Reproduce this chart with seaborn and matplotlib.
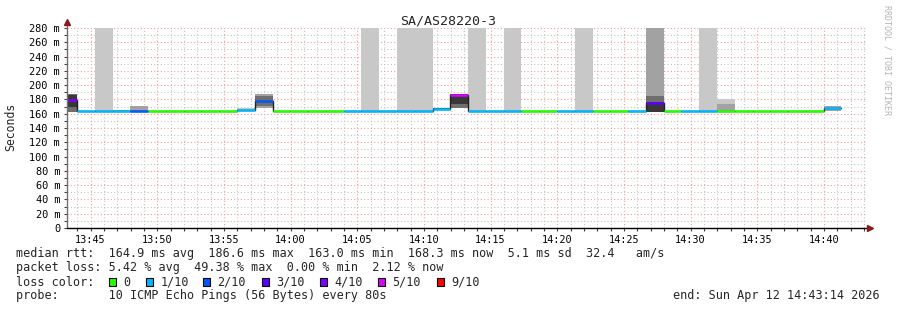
import matplotlib
matplotlib.use("Agg")
import numpy as np
import pandas as pd
import matplotlib.pyplot as plt
import seaborn as sns
from matplotlib.patches import Rectangle
from matplotlib.ticker import MultipleLocator

# ---------------- data ----------------
title = "SA/AS28220-3"
step_times = [
    "13:42:39", "13:43:59", "13:45:19", "13:46:39", "13:47:59", "13:49:19",
    "13:50:39", "13:51:59", "13:53:19", "13:54:39", "13:55:59", "13:57:19",
    "13:58:39", "13:59:59", "14:01:19", "14:02:39", "14:03:59", "14:05:19",
    "14:06:39", "14:07:59", "14:09:19", "14:10:39", "14:11:59", "14:13:19",
    "14:14:39", "14:15:59", "14:17:19", "14:18:39", "14:19:59", "14:21:19",
    "14:22:39", "14:23:59", "14:25:19", "14:26:39", "14:27:59", "14:29:19",
    "14:30:39", "14:31:59", "14:33:19", "14:34:39", "14:35:59", "14:37:19",
    "14:38:39", "14:39:59",
]
step_seconds = 80
median_ms = [
    179.6, 163.2, 163.2, 163.2, 163.2, 163.2, 163.2, 163.2, 163.2, 163.2,
    165.8, 177.3, 163.2, 163.2, 163.2, 163.2, 163.2, 163.2, 163.2, 163.2,
    163.2, 166.5, 186.6, 163.2, 163.2, 163.2, 163.2, 163.2, 163.2, 163.2,
    163.2, 163.2, 164.5, 175.0, 163.2, 163.2, 163.2, 163.2, 163.2, 163.2,
    163.2, 163.2, 163.2, 168.3,
]
loss_count = [
    4, 1, 1, 1, 2, 0, 0, 0, 0, 0,
    1, 2, 0, 0, 0, 0, 1, 1, 1, 1,
    1, 1, 5, 1, 1, 1, 0, 0, 1, 1,
    0, 0, 1, 3, 0, 1, 1, 0, 0, 0,
    0, 0, 0, 1,
]
nan = np.nan
# smoke layers (lo, hi) per step; nan = none
light_lo = [nan, nan, 163.2, nan, nan, nan, nan, nan, nan, nan,
            165.0, nan, nan, nan, nan, nan, nan, 163.2, nan, 163.2,
            163.2, nan, nan, 163.2, nan, 163.2, nan, nan, nan, 163.2,
            nan, nan, nan, nan, nan, nan, 163.2, 164.0, nan, nan,
            nan, nan, nan, nan]
light_hi = [nan, nan, 300.0, nan, nan, nan, nan, nan, nan, nan,
            168.5, nan, nan, nan, nan, nan, nan, 300.0, nan, 300.0,
            300.0, nan, nan, 300.0, nan, 300.0, nan, nan, nan, 300.0,
            nan, nan, nan, nan, nan, nan, 300.0, 180.2, nan, nan,
            nan, nan, nan, nan]
mid_lo = [nan, nan, nan, 163.2, 163.2, nan, nan, nan, nan, nan,
          nan, 167.6, nan, nan, nan, nan, nan, nan, nan, nan,
          nan, nan, nan, nan, nan, nan, nan, nan, nan, nan,
          nan, nan, nan, 163.0, nan, nan, nan, 164.0, nan, nan,
          nan, nan, nan, 163.8]
mid_hi = [nan, nan, nan, 165.5, 171.0, nan, nan, nan, nan, nan,
          nan, 187.6, nan, nan, nan, nan, nan, nan, nan, nan,
          nan, nan, nan, nan, nan, nan, nan, nan, nan, nan,
          nan, nan, nan, 300.0, nan, nan, nan, 173.6, nan, nan,
          nan, nan, nan, 170.8]
dim_lo = [162.5, nan, nan, nan, nan, nan, nan, nan, nan, nan,
          nan, 171.0, nan, nan, nan, nan, nan, nan, nan, nan,
          nan, nan, 168.0, nan, nan, nan, nan, nan, nan, nan,
          nan, nan, nan, 176.0, nan, nan, nan, nan, nan, nan,
          nan, nan, nan, nan]
dim_hi = [188.0, nan, nan, nan, nan, nan, nan, nan, nan, nan,
          nan, 184.8, nan, nan, nan, nan, nan, nan, nan, nan,
          nan, nan, 187.0, nan, nan, nan, nan, nan, nan, nan,
          nan, nan, nan, 184.8, nan, nan, nan, nan, nan, nan,
          nan, nan, nan, nan]
dark_lo = [169.0, nan, nan, nan, nan, nan, nan, nan, nan, nan,
           nan, nan, nan, nan, nan, nan, nan, nan, nan, nan,
           nan, 166.0, 173.6, nan, nan, nan, nan, nan, nan, nan,
           nan, nan, nan, 162.5, nan, nan, nan, nan, nan, nan,
           nan, nan, nan, nan]
dark_hi = [186.5, nan, nan, nan, nan, nan, nan, nan, nan, nan,
           nan, nan, nan, nan, nan, nan, nan, nan, nan, nan,
           nan, 168.0, 187.0, nan, nan, nan, nan, nan, nan, nan,
           nan, nan, nan, 176.0, nan, nan, nan, nan, nan, nan,
           nan, nan, nan, nan]

loss_levels = [0, 1, 2, 3, 4, 5, 9]
loss_labels = ["0", "1/10", "2/10", "3/10", "4/10", "5/10", "9/10"]
loss_colors = ["#26ff00", "#00b8ff", "#0059ff", "#5e00ff", "#7e00ff", "#dd00ff", "#ff0000"]

y_tick_values = [0, 20, 40, 60, 80, 100, 120, 140, 160, 180, 200, 220, 240, 260, 280]
y_tick_labels = ["0", "20 m", "40 m", "60 m", "80 m", "100 m", "120 m", "140 m",
                 "160 m", "180 m", "200 m", "220 m", "240 m", "260 m", "280 m"]
x_tick_times = ["13:45", "13:50", "13:55", "14:00", "14:05", "14:10",
                "14:15", "14:20", "14:25", "14:30", "14:35", "14:40"]
view_start = "13:43:14"
view_end = "14:43:14"

stats_lines = [
    "median rtt:  164.9 ms avg  186.6 ms max  163.0 ms min  168.3 ms now  5.1 ms sd  32.4   am/s",
    "packet loss: 5.42 % avg  49.38 % max  0.00 % min  2.12 % now",
    "loss color:",
    "probe:       10 ICMP Echo Pings (56 Bytes) every 80s",
]
end_text = "end: Sun Apr 12 14:43:14 2026"
watermark = "RRDTOOL / TOBI OETIKER"

# ---------------- helpers ----------------
def to_min(s):
    parts = [int(p) for p in s.split(":")]
    sec = parts[2] if len(parts) > 2 else 0
    return (parts[0] - 13) * 60 + parts[1] + sec / 60.0

W, H = 897, 310
sns.set_theme(style="white")
plt.rcParams['font.family'] = ['DejaVu Sans Mono']
MONO = 'DejaVu Sans Mono'

fig = plt.figure(figsize=(W / 100, H / 100), dpi=100)
fig.patch.set_facecolor("white")
ax = fig.add_axes([67 / W, 1 - 228 / H, 800 / W, 200 / H])
ax.set_facecolor("white")

starts = np.array([to_min(t) for t in step_times])
width = step_seconds / 60.0
ends = starts + width

layers = [(light_lo, light_hi, "#c8c8c8"),
          (mid_lo, mid_hi, "#a2a2a2"),
          (dim_lo, dim_hi, "#6e6e6e"),
          (dark_lo, dark_hi, "#383838")]
for lo, hi, col in layers:
    lo = np.array(lo, dtype=float)
    hi = np.array(hi, dtype=float)
    m = ~np.isnan(lo)
    ax.bar(starts[m], hi[m] - lo[m], bottom=lo[m], width=width, align="edge",
           color=col, linewidth=0, zorder=1)

# black median step line
df = pd.DataFrame({"t": list(starts) + [ends[-1]],
                   "ms": list(median_ms) + [median_ms[-1]]})
sns.lineplot(data=df, x="t", y="ms", drawstyle="steps-post", color="#202020",
             linewidth=1.0, estimator=None, sort=False, ax=ax, zorder=3)

# coloured median by loss
cmap = dict(zip(loss_levels, loss_colors))
seg_cols = [cmap[l] for l in loss_count]
ax.hlines(median_ms, starts, ends, colors=seg_cols, linewidth=1.8, zorder=4)

# axes limits / ticks
ax.set_xlim(to_min(view_start), to_min(view_end))
ax.set_ylim(0, 280)
ax.set_xticks([to_min(t) for t in x_tick_times])
ax.set_xticklabels(x_tick_times, fontsize=7.4, family=MONO)
ax.xaxis.set_minor_locator(MultipleLocator(1))
ax.set_yticks(y_tick_values)
ax.set_yticklabels(y_tick_labels, fontsize=7.4, family=MONO)
ax.yaxis.set_minor_locator(MultipleLocator(10))
ax.set_xlabel("")
ax.set_ylabel("")
ax.tick_params(which="both", direction="out", length=2, width=0.8,
               color="#404040", labelcolor="#000000", pad=3)
ax.tick_params(left=True, bottom=True, which="both")

ax.set_axisbelow(True)
ax.grid(which="major", color="#f29a9a", linestyle=(0, (1, 2)), linewidth=0.8)
ax.grid(which="minor", color="#c4c4c4", linestyle=(0, (1, 2)), linewidth=0.8)
for sp in ax.spines.values():
    sp.set_visible(False)

# axis lines with arrows
ax.plot([0, 0], [0, 1.03], transform=ax.transAxes, color="#707070", lw=1.0,
        clip_on=False, zorder=5)
ax.plot([0, 1.003], [0, 0], transform=ax.transAxes, color="#000000", lw=1.0,
        clip_on=False, zorder=5)
ax.plot([0], [1.03], marker="^", markersize=4, color="#8b1a1a",
        transform=ax.transAxes, clip_on=False, zorder=6)
ax.plot([1.004], [0], marker=">", markersize=4, color="#8b1a1a",
        transform=ax.transAxes, clip_on=False, zorder=6)

# texts
def fx(px):
    return px / W

def fy(py):
    return 1 - py / H

fig.text(fx(448), fy(24), title, ha="center", va="baseline", fontsize=9.6, family=MONO)
fig.text(fx(11), fy(127), "Seconds", rotation=90, ha="center", va="center",
         fontsize=8.3, family=MONO)
fig.text(fx(887), fy(5), watermark, rotation=270, ha="center", va="top",
         fontsize=6, family=MONO, color="#b4b4b4")

baselines = [257.5, 271.5, 285.5, 299.5]
for line, by in zip(stats_lines, baselines):
    fig.text(fx(16), fy(by), line, ha="left", va="baseline", fontsize=8.5, family=MONO)
fig.text(fx(880), fy(baselines[3]), end_text, ha="right", va="baseline",
         fontsize=8.5, family=MONO)

box_left = [109, 145.7, 203, 261.7, 320, 378, 436.7]
for bx, lab, col in zip(box_left, loss_labels, loss_colors):
    fig.patches.append(Rectangle((fx(bx), fy(285.5)), 7 / W, 7.5 / H,
                                 transform=fig.transFigure, facecolor=col,
                                 edgecolor="black", linewidth=0.8))
    fig.text(fx(bx + 14.5), fy(baselines[2]), lab, ha="left", va="baseline",
             fontsize=8.5, family=MONO)

fig.savefig("out.png", dpi=100, facecolor="white")
